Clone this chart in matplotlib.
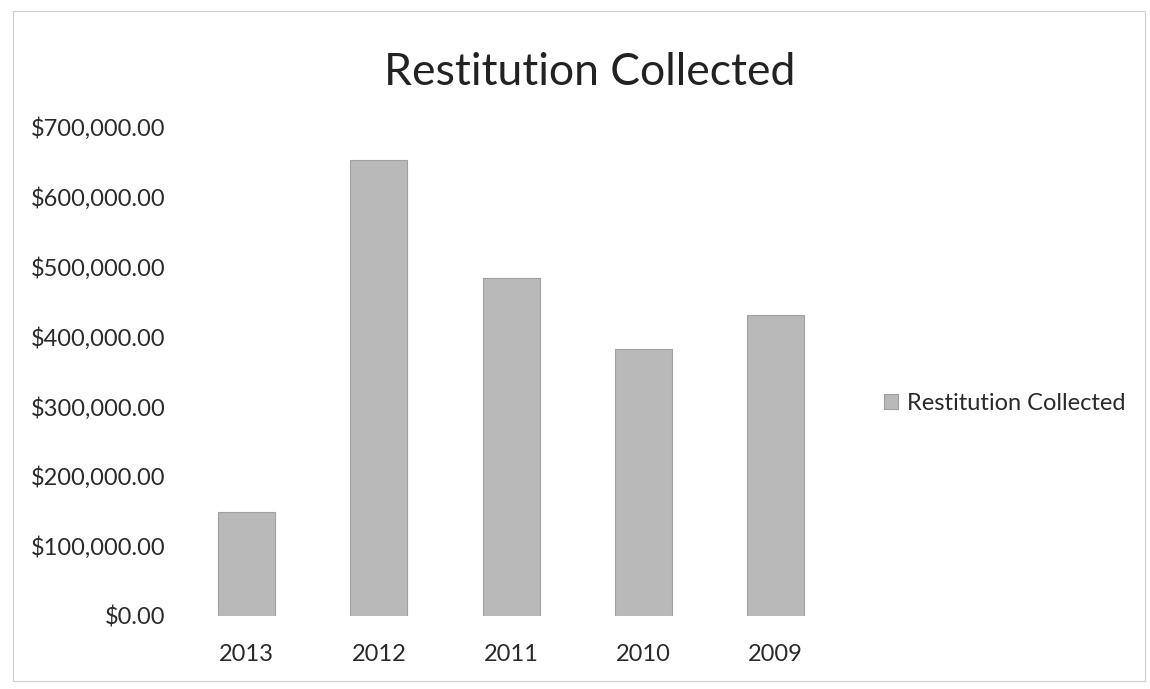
import matplotlib
matplotlib.use("Agg")
import matplotlib.pyplot as plt
from matplotlib.ticker import FuncFormatter
from matplotlib.patches import Rectangle

years = ["2013", "2012", "2011", "2010", "2009"]
restitution = [148000, 652000, 483000, 381000, 430000]
y_ticks = [0, 100000, 200000, 300000, 400000, 500000, 600000, 700000]
series_name = "Restitution Collected"

plt.rcParams["font.family"] = ["Lato", "DejaVu Sans"]

fig = plt.figure(figsize=(11.5, 6.89), dpi=100)
fig.patch.set_facecolor("white")

# light chart-area frame
fig.add_artist(Rectangle((0.011, 0.012), 0.985, 0.972, transform=fig.transFigure,
                         fill=False, edgecolor="#cfcfcf", linewidth=0.8))

ax = fig.add_axes([0.157, 0.106, 0.575, 0.711])
x = range(len(years))
bars = ax.bar(x, restitution, width=0.43, color="#b9b9b9",
              edgecolor="#a0a0a0", linewidth=0.8, label=series_name)

ax.set_xlim(-0.5, len(years) - 0.5)
ax.set_ylim(0, 700000)
ax.set_yticks(y_ticks)
ax.yaxis.set_major_formatter(FuncFormatter(lambda v, p: f"${v:,.2f}"))
ax.set_xticks(list(x))
ax.set_xticklabels(years)

for s in ax.spines.values():
    s.set_visible(False)
ax.tick_params(axis="both", length=0, labelsize=17, colors="#2a2a2a")
ax.tick_params(axis="y", pad=11)
ax.tick_params(axis="x", pad=20)

fig.text(0.513, 0.895, "Restitution Collected", ha="center", va="center",
         fontsize=32, color="#222222")

leg = ax.legend(loc="center left", bbox_to_anchor=(1.032, 0.434), frameon=False,
                fontsize=17, handlelength=0.6, handleheight=0.6, handletextpad=0.35,
                labelcolor="#2a2a2a")

fig.savefig("out.png", dpi=100, facecolor="white")
